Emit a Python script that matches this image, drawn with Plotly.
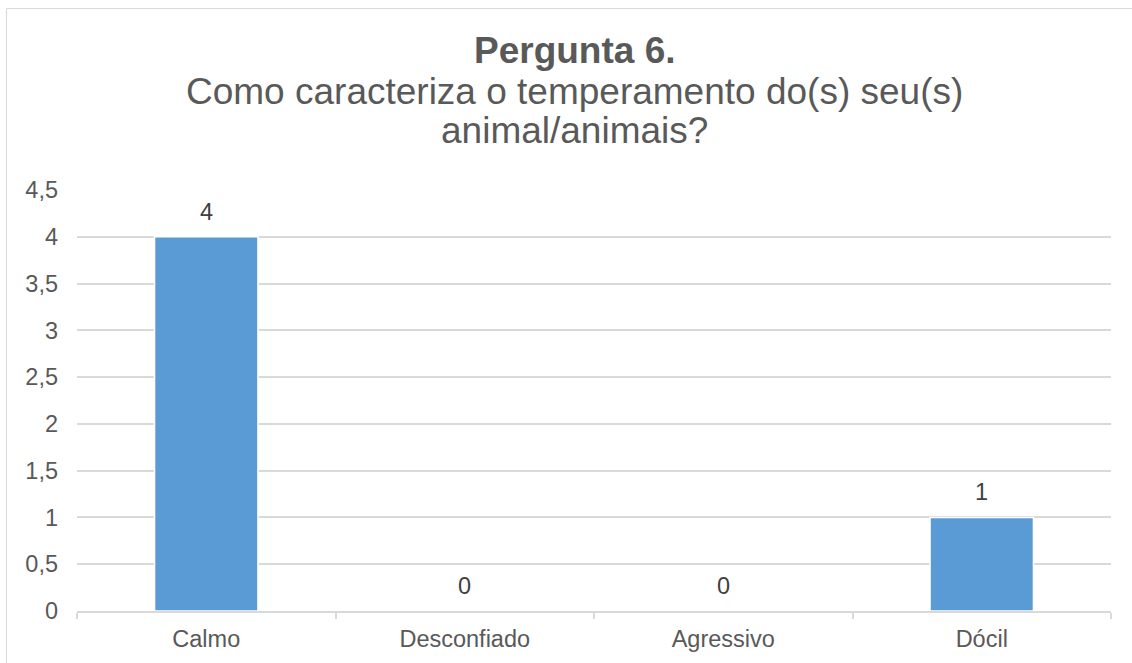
import plotly.graph_objects as go

categories = ["Calmo", "Desconfiado", "Agressivo", "Dócil"]
values = [4, 0, 0, 1]
title_bold = "Pergunta 6."
title_lines = ["Como caracteriza o temperamento do(s) seu(s)", "animal/animais?"]
y_ticks = [0, 0.5, 1, 1.5, 2, 2.5, 3, 3.5, 4, 4.5]

W, H = 1132, 663
L, R, T, B = 77, 21, 190, 52
pw, ph = W - L - R, H - T - B

def px_x(p):
    return (p - L) / pw

def px_y(p):
    return (H - B - p) / ph

FONT = "Liberation Sans, Arial, sans-serif"
TXT = "#595959"
GRID = "#D9D9D9"
TS = 23.5

fig = go.Figure()
fig.add_trace(go.Bar(
    x=categories, y=values, width=0.4,
    marker=dict(color="#5B9BD5", line=dict(color="white", width=1.5)),
    hoverinfo="skip",
))

annotations = []
# data labels, taken from the data arrays
for c, v in zip(categories, values):
    annotations.append(dict(text=str(v), x=c, y=v, xref="x", yref="y",
                            showarrow=False, xanchor="center", yanchor="bottom",
                            yshift=10, font=dict(family=FONT, size=TS, color="#404040")))

tx = px_x(574.5)
annotations.append(dict(text="<b>" + title_bold + "</b>", x=tx, y=px_y(50), xref="paper", yref="paper",
                        showarrow=False, xanchor="center", yanchor="middle",
                        font=dict(family=FONT, size=37, color=TXT)))
for line, py in zip(title_lines, [92, 130]):
    annotations.append(dict(text=line, x=tx, y=px_y(py), xref="paper", yref="paper",
                            showarrow=False, xanchor="center", yanchor="middle",
                            font=dict(family=FONT, size=37, color=TXT)))

fig.update_layout(
    width=W, height=H,
    margin=dict(l=L, r=R, t=T, b=B, pad=0),
    paper_bgcolor="white", plot_bgcolor="white",
    showlegend=False,
    separators=",.",
    font=dict(family=FONT, color=TXT, size=TS),
    annotations=annotations,
    shapes=[dict(type="rect", xref="paper", yref="paper",
                 x0=px_x(6.5), x1=px_x(1145), y0=px_y(680), y1=px_y(8.5),
                 line=dict(color=GRID, width=1), fillcolor="rgba(0,0,0,0)", layer="below")],
)
fig.update_xaxes(
    showline=True, linecolor=GRID, linewidth=1.5,
    showgrid=False, ticks="outside", tickson="boundaries", ticklen=6,
    tickcolor=GRID, tickwidth=1.5,
    tickfont=dict(family=FONT, size=TS, color=TXT),
    ticklabelstandoff=6, zeroline=False,
)
fig.update_yaxes(
    range=[0, 4.5], tickvals=y_ticks, showgrid=True, gridcolor=GRID, gridwidth=1.5,
    zeroline=False, showline=False, ticks="",
    tickfont=dict(family=FONT, size=TS, color=TXT),
    ticklabelstandoff=18,
)

fig.write_html("out.html")
